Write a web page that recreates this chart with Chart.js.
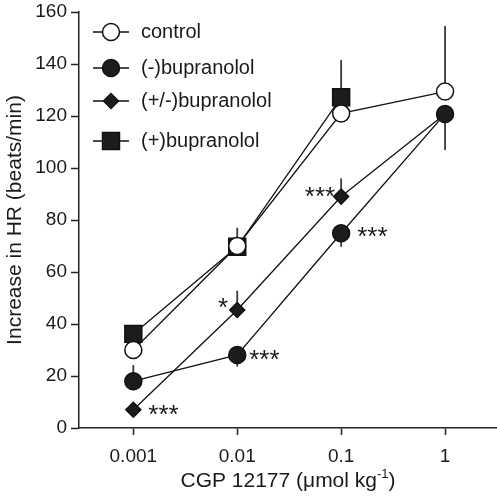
<!DOCTYPE html>
<html><head><meta charset="utf-8">
<script src="https://cdn.jsdelivr.net/npm/chart.js@4/dist/chart.umd.min.js"></script>
<style>html,body{margin:0;padding:0;background:#fff;overflow:hidden;}canvas{display:block;}</style>
</head><body><canvas id="c" width="497" height="499" style="width:497px;height:499px;"></canvas>
<script>
// ---- data ----
const doses = [0.001, 0.01, 0.1, 1];
const doseLabels = ['0.001', '0.01', '0.1', '1'];
const yTickValues = [0, 20, 40, 60, 80, 100, 120, 140, 160];
const seriesNames = ['control', '(-)bupranolol', '(+/-)bupranolol', '(+)bupranolol'];
const controlValues = [30, 70, 121, 129.4];
const minusValues = [18, 28.1, 74.9, 120.8];
const racemicValues = [7, 45.4, 89, 120.8];
const plusValues = [36.2, 69.7, 127.2, null];
// error bar end values (null = bar hidden / not visible)
const controlErrEnd = [null, 77, null, 154.6];
const minusErrEnd = [24.2, 23.6, 69.7, 106.9];
const racemicErrEnd = [null, 52.8, 96, null];
const plusErrEnd = [39.6, null, 141.5, null];
// significance marks: series index, point index, text
const sigSeries = [2, 2, 1, 2, 1];
const sigPoint = [0, 1, 1, 2, 2];
const sigText = ['***', '*', '***', '***', '***'];

// ---- styling / layout (not data) ----
const FONT = 'Liberation Sans, Arial, Helvetica, sans-serif';
const sigLayout = [ {dx: 15, dy: -2, align: 'left'}, {dx: -9, dy: -9, align: 'right'}, {dx: 12, dy: -2, align: 'left'}, {dx: -6, dy: -7, align: 'right'}, {dx: 16, dy: -3, align: 'left'} ];
const legendRows = [32, 68, 101, 141];

const valueSets = [controlValues, minusValues, racemicValues, plusValues];
const errSets = [controlErrEnd, minusErrEnd, racemicErrEnd, plusErrEnd];
const styles = [
  {pointStyle: 'circle', pointRadius: 8.5, pointBackgroundColor: '#ffffff'},
  {pointStyle: 'circle', pointRadius: 8.5, pointBackgroundColor: '#1c1c1c'},
  {pointStyle: 'rectRot', pointRadius: 7.5, pointBackgroundColor: '#1c1c1c'},
  {pointStyle: 'rect', pointRadius: 12, pointBackgroundColor: '#1c1c1c'}
];
// lower order = drawn on top
const drawOrder = [1, 0, 2, 3];

const datasets = valueSets.map((vals, i) => Object.assign({
  label: seriesNames[i],
  data: doses.map((d, j) => ({x: d, y: vals[j]})).filter(p => p.y !== null),
  borderColor: '#111',
  borderWidth: 1.3,
  pointBorderColor: '#111',
  pointBorderWidth: 1.5,
  fill: false,
  tension: 0,
  order: drawOrder[i]
}, styles[i]));

const extras = {
  id: 'extras',
  beforeDatasetsDraw(chart) {
    const ctx = chart.ctx, xs = chart.scales.x, ys = chart.scales.y;
    ctx.save();
    ctx.strokeStyle = '#3a3a3a';
    ctx.lineWidth = 1.8;
    errSets.forEach((errs, i) => {
      errs.forEach((e, j) => {
        if (e === null || valueSets[i][j] === null) return;
        const x = xs.getPixelForValue(doses[j]);
        ctx.beginPath();
        ctx.moveTo(x, ys.getPixelForValue(valueSets[i][j]));
        ctx.lineTo(x, ys.getPixelForValue(e));
        ctx.stroke();
      });
    });
    ctx.restore();
  },
  afterDraw(chart) {
    const ctx = chart.ctx, xs = chart.scales.x, ys = chart.scales.y;
    ctx.save();
    // legend
    seriesNames.forEach((name, i) => {
      const y = legendRows[i];
      ctx.strokeStyle = '#111'; ctx.lineWidth = 1.3;
      ctx.beginPath(); ctx.moveTo(93, y); ctx.lineTo(129, y); ctx.stroke();
      ctx.fillStyle = styles[i].pointBackgroundColor;
      ctx.strokeStyle = '#111'; ctx.lineWidth = 1.5;
      Chart.helpers.drawPoint(ctx, {pointStyle: styles[i].pointStyle, radius: styles[i].pointRadius, rotation: 0, borderWidth: 1.5}, 111, y);
      ctx.fillStyle = '#1a1a1a';
      ctx.font = '20px ' + FONT;
      ctx.textAlign = 'left'; ctx.textBaseline = 'middle';
      ctx.fillText(name, 141, y);
    });
    // significance marks
    ctx.font = '26px ' + FONT;
    ctx.fillStyle = '#1a1a1a';
    ctx.textBaseline = 'alphabetic';
    sigText.forEach((t, k) => {
      const s = sigSeries[k], p = sigPoint[k], L = sigLayout[k];
      const x = xs.getPixelForValue(doses[p]) + L.dx;
      const y = ys.getPixelForValue(valueSets[s][p]) + L.dy;
      ctx.textAlign = L.align;
      ctx.fillText(t, x, y + 15);
    });
    // y title
    ctx.font = '21px ' + FONT;
    ctx.textAlign = 'center'; ctx.textBaseline = 'middle';
    ctx.save();
    ctx.translate(15, (chart.chartArea.top + chart.chartArea.bottom) / 2);
    ctx.rotate(-Math.PI / 2);
    ctx.fillText('Increase in HR (beats/min)', 0, 0);
    ctx.restore();
    // x title with superscript
    const main = 'CGP 12177 (μmol kg', sup = '-1', tail = ')';
    ctx.font = '21px ' + FONT;
    const w1 = ctx.measureText(main).width, w3 = ctx.measureText(tail).width;
    ctx.font = '13px ' + FONT;
    const w2 = ctx.measureText(sup).width;
    const total = w1 + w2 + w3;
    let x0 = (chart.chartArea.left + chart.chartArea.right) / 2 - total / 2;
    const base = 487;
    ctx.textAlign = 'left'; ctx.textBaseline = 'alphabetic';
    ctx.font = '21px ' + FONT;
    ctx.fillText(main, x0, base);
    ctx.font = '13px ' + FONT;
    ctx.fillText(sup, x0 + w1, base - 9);
    ctx.font = '21px ' + FONT;
    ctx.fillText(tail, x0 + w1 + w2, base);
    ctx.restore();
  }
};

new Chart(document.getElementById('c'), {
  type: 'line',
  data: {datasets},
  options: {
    responsive: false,
    maintainAspectRatio: false,
    devicePixelRatio: 1,
    animation: false,
    layout: {autoPadding: false, padding: {top: 12, right: 0, left: 0, bottom: 0}},
    plugins: {legend: {display: false}, tooltip: {enabled: false}},
    scales: {
      x: {
        type: 'logarithmic',
        min: Math.pow(10, -3.5),
        max: Math.pow(10, 0.5),
        afterBuildTicks: (s) => { s.ticks = doses.map(v => ({value: v})); },
        afterFit: (s) => { s.height = 71; s.paddingLeft = 0; s.paddingRight = 0; },
        ticks: {
          callback: (v) => { const i = doses.indexOf(v); return i >= 0 ? doseLabels[i] : ''; },
          font: {family: FONT, size: 19},
          color: '#1a1a1a',
          padding: 10,
          maxRotation: 0,
          autoSkip: false
        },
        grid: {display: true, drawOnChartArea: false, drawTicks: true, tickLength: 7, tickWidth: 1.5, color: '#222'},
        border: {display: true, color: '#222', width: 1.5}
      },
      y: {
        type: 'linear',
        min: 0,
        max: 160,
        afterBuildTicks: (s) => { s.ticks = yTickValues.map(v => ({value: v})); },
        afterFit: (s) => { s.width = 79; s.paddingTop = 0; s.paddingBottom = 0; },
        ticks: {
          font: {family: FONT, size: 19},
          color: '#1a1a1a',
          padding: 4
        },
        grid: {display: true, drawOnChartArea: false, drawTicks: true, tickLength: 8, tickWidth: 1.5, color: '#222'},
        border: {display: true, color: '#222', width: 1.5}
      }
    }
  },
  plugins: [extras]
});
</script>
</body></html>
